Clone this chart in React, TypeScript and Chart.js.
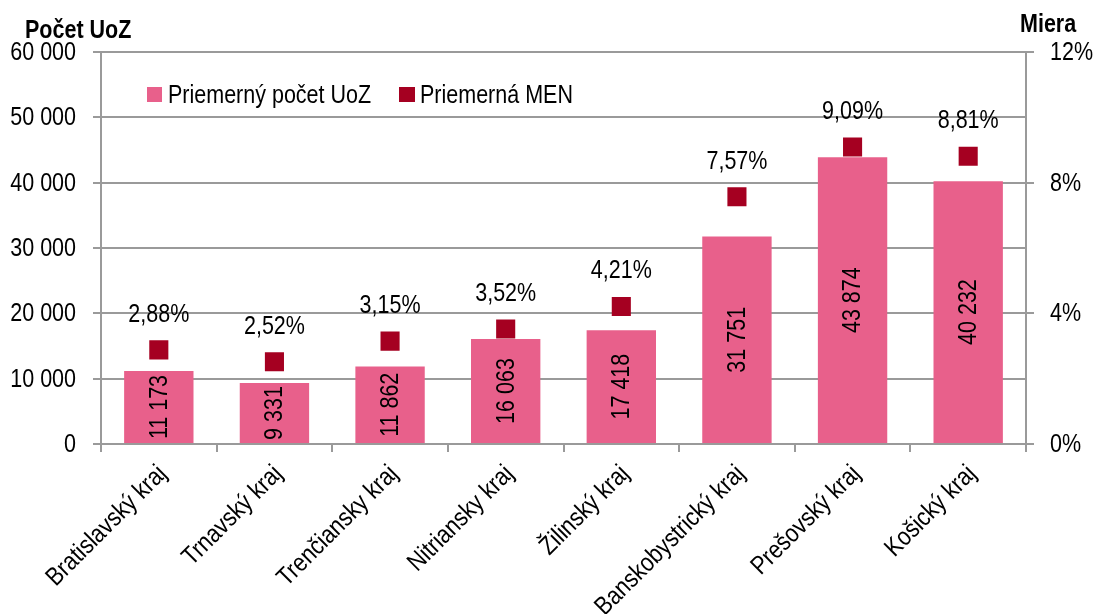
import React, { useEffect, useRef } from "react";
import { Chart, registerables } from "chart.js";

Chart.register(...registerables);

const categories = [
  "Bratislavský kraj",
  "Trnavský kraj",
  "Trenčiansky kraj",
  "Nitriansky kraj",
  "Žilinský kraj",
  "Banskobystrický kraj",
  "Prešovský kraj",
  "Košický kraj",
];
const avgUoZ = [11173, 9331, 11862, 16063, 17418, 31751, 43874, 40232];
const avgMEN = [2.88, 2.52, 3.15, 3.52, 4.21, 7.57, 9.09, 8.81];
const seriesNames = ["Priemerný počet UoZ", "Priemerná MEN"];
const leftTitle = "Počet UoZ";
const rightTitle = "Miera";

const FONT = "'Liberation Sans', Arial, sans-serif";
const FS = 25;
const NARROW = 0.86;
const BAR_COLOR = "#E8608B";
const PT_COLOR = "#A50021";
const GRID = "#9a9a9a";

const fmtThousands = (v: number) =>
  String(Math.round(v)).replace(/\B(?=(\d{3})+(?!\d))/g, " ");
const fmtPct = (v: number) => v.toFixed(2).replace(".", ",") + "%";

function narrowText(
  ctx: CanvasRenderingContext2D,
  text: string,
  x: number,
  y: number,
  align: CanvasTextAlign,
  baseline: CanvasTextBaseline,
  opts: { bold?: boolean; rot?: number; size?: number } = {}
) {
  ctx.save();
  ctx.font = `${opts.bold ? "bold " : ""}${opts.size || FS}px ${FONT}`;
  ctx.textAlign = align;
  ctx.textBaseline = baseline;
  ctx.fillStyle = "#000";
  ctx.translate(x, y);
  if (opts.rot) ctx.rotate(opts.rot);
  ctx.scale(NARROW, 1);
  ctx.fillText(text, 0, 0);
  ctx.restore();
}

const labelsPlugin = {
  id: "customLabels",
  afterDraw(chart: any) {
    const ctx = chart.ctx as CanvasRenderingContext2D;
    const { x, y, y1 } = chart.scales;
    const area = chart.chartArea;
    // left axis tick labels
    y.ticks.forEach((t: any) => {
      narrowText(ctx, fmtThousands(t.value), y.right - 25, y.getPixelForValue(t.value) + 1, "right", "middle");
    });
    // right axis tick labels
    y1.ticks.forEach((t: any) => {
      narrowText(ctx, `${t.value}%`, y1.left + 24, y1.getPixelForValue(t.value) + 1, "left", "middle");
    });
    // category labels
    categories.forEach((c, i) => {
      const px = x.getPixelForValue(i);
      narrowText(ctx, c, px + 4, x.top + 26, "right", "middle", { rot: -Math.PI / 4, size: 25.5 });
    });
    // bar values, rotated, centred in bar, clipped to plot area
    ctx.save();
    ctx.beginPath();
    ctx.rect(area.left, area.top, area.right - area.left, area.bottom - area.top - 1);
    ctx.clip();
    const barMeta = chart.getDatasetMeta(0);
    barMeta.data.forEach((el: any, i: number) => {
      const cy = (el.y + el.base) / 2;
      narrowText(ctx, fmtThousands(avgUoZ[i]), el.x + 1, cy, "center", "middle", { rot: -Math.PI / 2 });
    });
    ctx.restore();
    // point labels
    const ptMeta = chart.getDatasetMeta(1);
    ptMeta.data.forEach((el: any, i: number) => {
      narrowText(ctx, fmtPct(avgMEN[i]), el.x, el.y - 35, "center", "middle");
    });
    // axis titles
    narrowText(ctx, leftTitle, 25, 38, "left", "alphabetic", { bold: true });
    narrowText(ctx, rightTitle, 1020, 32, "left", "alphabetic", { bold: true });
    // legend
    ctx.save();
    ctx.fillStyle = BAR_COLOR;
    ctx.fillRect(147, 87, 15, 15);
    ctx.fillStyle = PT_COLOR;
    ctx.fillRect(399, 87, 16, 15);
    ctx.restore();
    narrowText(ctx, seriesNames[0], 168, 103, "left", "alphabetic");
    narrowText(ctx, seriesNames[1], 420, 103, "left", "alphabetic");
  },
};

export default function App() {
  const ref = useRef<HTMLCanvasElement | null>(null);
  useEffect(() => {
    if (!ref.current) return;
    const chart = new Chart(ref.current, {
      type: "bar",
      data: {
        labels: categories,
        datasets: [
          {
            type: "bar",
            label: seriesNames[0],
            data: avgUoZ,
            backgroundColor: BAR_COLOR,
            borderWidth: 0,
            barPercentage: 0.6,
            categoryPercentage: 1,
            yAxisID: "y",
            order: 2,
          },
          {
            type: "line",
            label: seriesNames[1],
            data: avgMEN,
            showLine: false,
            pointStyle: "rect",
            pointRadius: 13.5,
            pointHoverRadius: 13.5,
            pointBackgroundColor: PT_COLOR,
            pointBorderWidth: 0,
            borderColor: PT_COLOR,
            yAxisID: "y1",
            order: 1,
          } as any,
        ],
      },
      options: {
        animation: false,
        responsive: true,
        maintainAspectRatio: false,
        layout: { padding: { top: 52, left: 0, right: 0, bottom: 0 } },
        plugins: {
          legend: { display: false },
          tooltip: { enabled: false },
          title: { display: false },
        },
        scales: {
          x: {
            offset: true,
            grid: {
              display: true,
              drawOnChartArea: false,
              drawTicks: true,
              tickLength: 8,
              color: GRID,
              lineWidth: 2,
              offset: true,
            },
            border: { display: true, color: GRID, width: 2 },
            ticks: { display: false, autoSkip: false },
            afterFit: (s: any) => {
              s.height = 170;
            },
          },
          y: {
            position: "left",
            min: 0,
            max: 60000,
            ticks: { display: false, stepSize: 10000 },
            grid: {
              color: GRID,
              lineWidth: 2,
              drawTicks: true,
              tickLength: 8,
            },
            border: { display: true, color: GRID, width: 2 },
            afterFit: (s: any) => {
              s.width = 101;
            },
          },
          y1: {
            position: "right",
            min: 0,
            max: 12,
            ticks: { display: false, stepSize: 4 },
            grid: {
              drawOnChartArea: false,
              color: GRID,
              lineWidth: 2,
              drawTicks: true,
              tickLength: 8,
            },
            border: { display: true, color: GRID, width: 2 },
            afterFit: (s: any) => {
              s.width = 70;
            },
          },
        },
      },
      plugins: [labelsPlugin],
    });
    return () => chart.destroy();
  }, []);
  return (
    <div style={{ position: "fixed", left: 0, top: 0, width: 1096, height: 614, background: "#fff" }}>
      <canvas ref={ref} />
    </div>
  );
}
